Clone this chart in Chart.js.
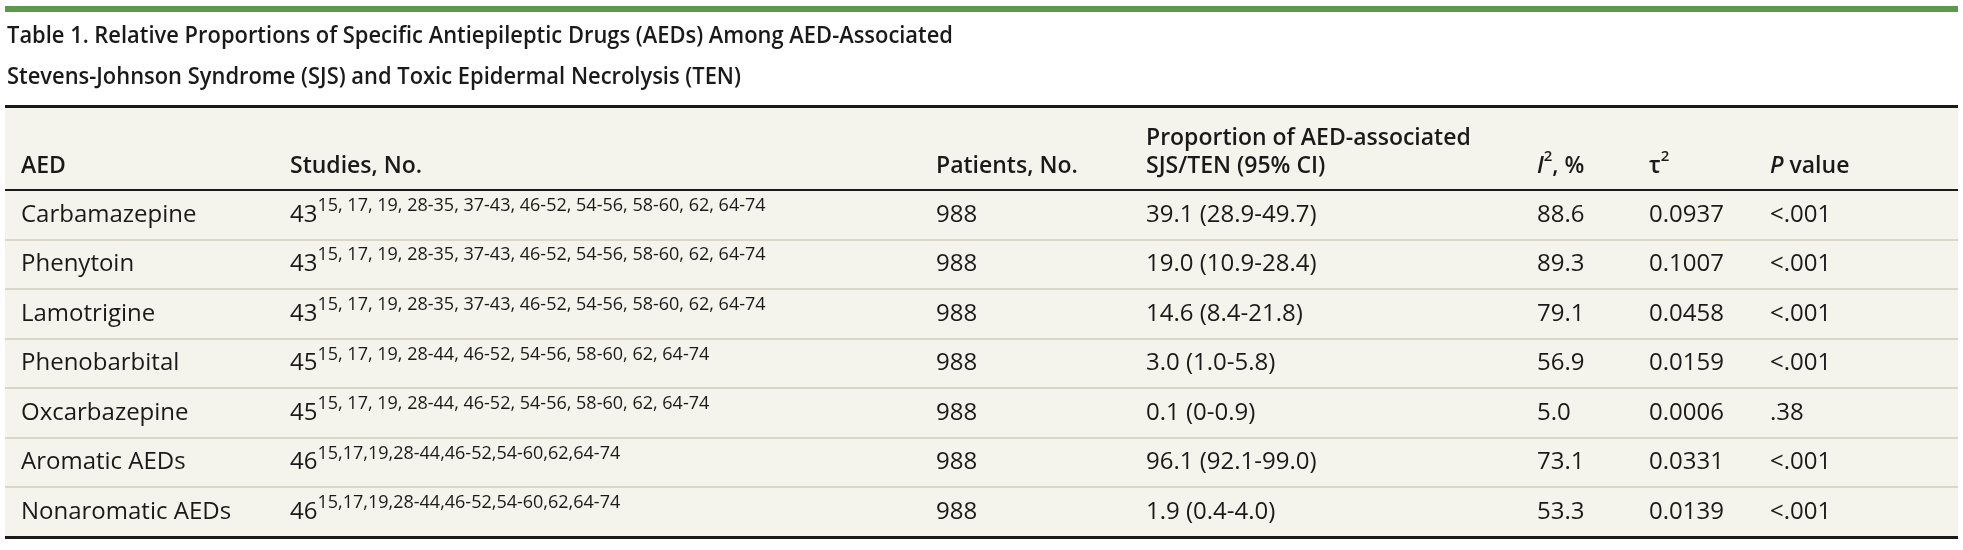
<!DOCTYPE html>
<html lang="en">
<head>
<meta charset="UTF-8" />
<title>Table 1. Relative Proportions of Specific AEDs</title>
<script src="https://cdn.jsdelivr.net/npm/chart.js"></script>
<style>
  html, body { margin: 0; padding: 0; background: #fff; }
  #wrap { width: 1963px; height: 550px; }
</style>
</head>
<body>
<div id="wrap"><canvas id="tableChart" width="1963" height="550"></canvas></div>
<script>
  const titleLines = [
    'Table 1. Relative Proportions of Specific Antiepileptic Drugs (AEDs) Among AED-Associated',
    'Stevens-Johnson Syndrome (SJS) and Toxic Epidermal Necrolysis (TEN)'
  ];
  const drugs = ['Carbamazepine', 'Phenytoin', 'Lamotrigine', 'Phenobarbital', 'Oxcarbazepine', 'Aromatic AEDs', 'Nonaromatic AEDs'];
  const studyCounts = [43, 43, 43, 45, 45, 46, 46];
  const studyRefs = [
    '15, 17, 19, 28-35, 37-43, 46-52, 54-56, 58-60, 62, 64-74',
    '15, 17, 19, 28-35, 37-43, 46-52, 54-56, 58-60, 62, 64-74',
    '15, 17, 19, 28-35, 37-43, 46-52, 54-56, 58-60, 62, 64-74',
    '15, 17, 19, 28-44, 46-52, 54-56, 58-60, 62, 64-74',
    '15, 17, 19, 28-44, 46-52, 54-56, 58-60, 62, 64-74',
    '15,17,19,28-44,46-52,54-60,62,64-74',
    '15,17,19,28-44,46-52,54-60,62,64-74'
  ];
  const patients = [988, 988, 988, 988, 988, 988, 988];
  const proportions = ['39.1 (28.9-49.7)', '19.0 (10.9-28.4)', '14.6 (8.4-21.8)', '3.0 (1.0-5.8)', '0.1 (0-0.9)', '96.1 (92.1-99.0)', '1.9 (0.4-4.0)'];
  const i2Values = [88.6, 89.3, 79.1, 56.9, 5.0, 73.1, 53.3];
  const tau2Values = ['0.0937', '0.1007', '0.0458', '0.0159', '0.0006', '0.0331', '0.0139'];
  const pValues = ['<.001', '<.001', '<.001', '<.001', '.38', '<.001', '<.001'];

  // column left edges, in x-scale units (px from the table's left edge)
  const columnX = [16, 285, 931, 1141, 1532, 1644, 1765];

  const FONT = '"Open Sans", "Noto Sans", sans-serif';
  const INK = '#1a1a1a';

  const cellText = [
    i => drugs[i],
    i => String(studyCounts[i]),
    i => String(patients[i]),
    i => proportions[i],
    i => i2Values[i].toFixed(1),
    i => tau2Values[i],
    i => pValues[i]
  ];

  const datasets = columnX.map((cx, c) => ({
    label: 'col' + c,
    data: drugs.map(d => ({ x: cx, y: d })),
    pointRadius: 0,
    pointHoverRadius: 0,
    showLine: false
  }));

  // draws runs of text pieces left to right: [text, font, dy]
  function drawRuns(ctx, x, y, runs) {
    runs.forEach(([t, f, dy]) => {
      ctx.font = f;
      ctx.fillText(t, x, y + (dy || 0));
      x += ctx.measureText(t).width;
    });
  }

  const tablePlugin = {
    id: 'tablePlugin',
    beforeDraw(chart) {
      const { ctx, chartArea: a, scales: { x } } = chart;
      ctx.save();
      ctx.fillStyle = '#fff';
      ctx.fillRect(0, 0, chart.width, chart.height);

      // green rule on top
      ctx.fillStyle = '#5b9a4b';
      ctx.fillRect(a.left, 6, a.right - a.left, 6);

      // title, fitted to the reference width
      ctx.fillStyle = INK;
      ctx.textBaseline = 'middle';
      ctx.font = '600 23px ' + FONT;
      const sx = 946 / ctx.measureText(titleLines[0]).width;
      titleLines.forEach((line, k) => {
        ctx.save();
        ctx.translate(7, 36 + k * 41);
        ctx.scale(sx, 1);
        ctx.fillText(line, 0, 0);
        ctx.restore();
      });

      // cream body
      ctx.fillStyle = '#f4f3ec';
      ctx.fillRect(a.left, 107, a.right - a.left, a.bottom - 107);

      // column headers
      const hb = '600 23px ' + FONT;
      const hi = 'italic 600 23px ' + FONT;
      const hs = '600 15px ' + FONT;
      const yh = 166;
      ctx.fillStyle = INK;
      const px = columnX.map(v => x.getPixelForValue(v));
      drawRuns(ctx, px[0], yh, [['AED', hb]]);
      drawRuns(ctx, px[1], yh, [['Studies, No.', hb]]);
      drawRuns(ctx, px[2], yh, [['Patients, No.', hb]]);
      drawRuns(ctx, px[3], yh - 28, [['Proportion of AED-associated', hb]]);
      drawRuns(ctx, px[3], yh, [['SJS/TEN (95% CI)', hb]]);
      drawRuns(ctx, px[4], yh, [['I', hi], ['2', hs, -9], [', %', hb]]);
      drawRuns(ctx, px[5], yh, [['τ', hb], ['2', hs, -9]]);
      drawRuns(ctx, px[6], yh, [['P', hi], [' value', hb]]);
      ctx.restore();
    },
    afterDatasetsDraw(chart) {
      const { ctx, chartArea: a } = chart;
      ctx.save();
      ctx.fillStyle = INK;
      ctx.textBaseline = 'middle';
      const body = '24px ' + FONT;
      const sup = '18px ' + FONT;
      chart.data.datasets.forEach((ds, c) => {
        chart.getDatasetMeta(c).data.forEach((pt, i) => {
          const runs = [[cellText[c](i), body]];
          if (c === 1) runs.push([studyRefs[i], sup, -9]);
          drawRuns(ctx, pt.x, pt.y, runs);
        });
      });

      // black rules
      ctx.fillStyle = '#1a1a1a';
      ctx.fillRect(a.left, 105, a.right - a.left, 3);
      ctx.fillRect(a.left, a.top - 1, a.right - a.left, 2);
      ctx.fillRect(a.left, a.bottom - 1, a.right - a.left, 3);
      ctx.restore();
    }
  };

  new Chart(document.getElementById('tableChart'), {
    type: 'scatter',
    data: { datasets },
    plugins: [tablePlugin],
    options: {
      responsive: false,
      animation: false,
      events: [],
      layout: { padding: { left: 5, right: 5, top: 190, bottom: 13 } },
      plugins: { legend: { display: false }, tooltip: { enabled: false }, title: { display: false } },
      scales: {
        x: { type: 'linear', min: 0, max: 1953, display: false },
        y: {
          type: 'category',
          labels: drugs,
          offset: true,
          afterFit: s => { s.width = 0; },
          ticks: { display: false },
          border: { display: false },
          grid: {
            offset: true,
            drawTicks: false,
            lineWidth: 2,
            color: c => (c.index === 0 || c.index >= drugs.length) ? 'rgba(0,0,0,0)' : '#dad6c8'
          }
        }
      }
    }
  });
</script>
</body>
</html>
